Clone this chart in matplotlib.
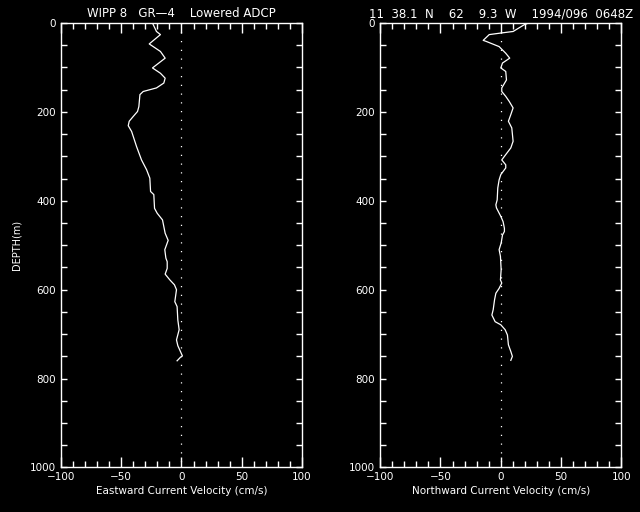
import numpy as np
import matplotlib
matplotlib.use('Agg')
import matplotlib.pyplot as plt
from matplotlib.ticker import MultipleLocator

# eastward velocity profile (cm/s) vs depth (m)
east_depth = [0, 19, 26, 47, 64, 79, 101, 113, 124, 135, 146, 154, 161, 188, 199,
              210, 221, 231, 244, 278, 308, 330, 349, 379, 386, 417, 428, 443, 473,
              489, 510, 529, 537, 552, 565, 578, 589, 600, 627, 638, 668, 690, 713,
              726, 749, 752, 760]
east_vel = [-24.0, -20.7, -17.4, -26.7, -17.4, -13.5, -24.0, -17.4, -13.5, -14.6,
            -20.7, -31.7, -34.4, -35.3, -36.4, -39.9, -43.3, -44.1, -41.3, -37.2,
            -33.1, -28.9, -26.2, -25.6, -22.9, -22.3, -20.1, -15.7, -13.5, -11.0,
            -13.8, -12.9, -11.8, -11.8, -13.5, -9.6, -5.8, -4.1, -5.5, -3.6, -3.0,
            -1.9, -4.1, -3.0, 0.8, -0.8, -3.6]

# northward velocity profile
north_depth = [0, 4, 19, 22, 26, 39, 41, 53, 68, 79, 90, 101, 109, 128, 146, 154,
               165, 176, 191, 206, 221, 236, 266, 281, 296, 308, 319, 326, 341, 353,
               371, 398, 409, 416, 435, 447, 462, 469, 477, 495, 510, 525, 555, 578,
               585, 597, 608, 623, 645, 657, 672, 679, 690, 702, 724, 739, 750, 759]
north_vel = [22.9, 19.3, 10.2, 1.4, -9.6, -14.6, -12.4, -1.4, 4.1, 7.4, 1.4, 0.0,
             4.1, 4.7, 0.8, 0.8, 4.1, 6.9, 10.2, 8.3, 6.3, 9.1, 10.2, 8.3, 4.1, 0.8,
             4.1, 4.1, 0.0, -1.4, -2.5, -3.0, -4.1, -3.6, 0.0, 1.9, 3.0, 3.0, 1.4,
             0.3, -1.4, -0.3, 0.3, -0.3, 0.8, -1.4, -4.1, -5.2, -6.3, -7.4, -4.7,
             0.0, 3.6, 5.5, 6.3, 8.3, 9.6, 8.3]

titles = ["WIPP 8   GR\u20144    Lowered ADCP",
          "11  38.1  N    62    9.3  W    1994/096  0648Z"]
xlabels = ["Eastward Current Velocity (cm/s)", "Northward Current Velocity (cm/s)"]

fs = 7.5
fig = plt.figure(figsize=(6.4, 5.12), dpi=100, facecolor='black')
lefts = [0.095, 0.594]
profiles = [(east_vel, east_depth), (north_vel, north_depth)]

for i in range(2):
    ax = fig.add_axes([lefts[i], 0.087, 0.377, 0.868], facecolor='black')
    v, d = profiles[i]
    ax.plot([0, 0], [0, 1000], color='white', lw=0.9, linestyle=(0, (1, 6)))
    ax.plot(v, d, color='white', lw=0.9)
    ax.set_xlim(-100, 100)
    ax.set_ylim(1000, 0)
    ax.xaxis.set_major_locator(MultipleLocator(50))
    ax.xaxis.set_minor_locator(MultipleLocator(10))
    ax.yaxis.set_major_locator(MultipleLocator(200))
    ax.yaxis.set_minor_locator(MultipleLocator(50))
    ax.tick_params(which='both', direction='in', colors='white', top=True,
                   right=True, labelsize=fs, width=1)
    ax.tick_params(which='major', length=7)
    ax.tick_params(which='minor', length=4)
    ax.tick_params(axis='y', which='both', length=4)
    for s in ax.spines.values():
        s.set_color('white')
        s.set_linewidth(1)
    ax.set_title(titles[i], color='white', fontsize=fs + 1, pad=4)
    ax.set_xlabel(xlabels[i], color='white', fontsize=fs, labelpad=3)
    if i == 0:
        ax.set_ylabel("DEPTH(m)", color='white', fontsize=fs - 0.5, labelpad=6)

fig.savefig("out.png", facecolor='black')
